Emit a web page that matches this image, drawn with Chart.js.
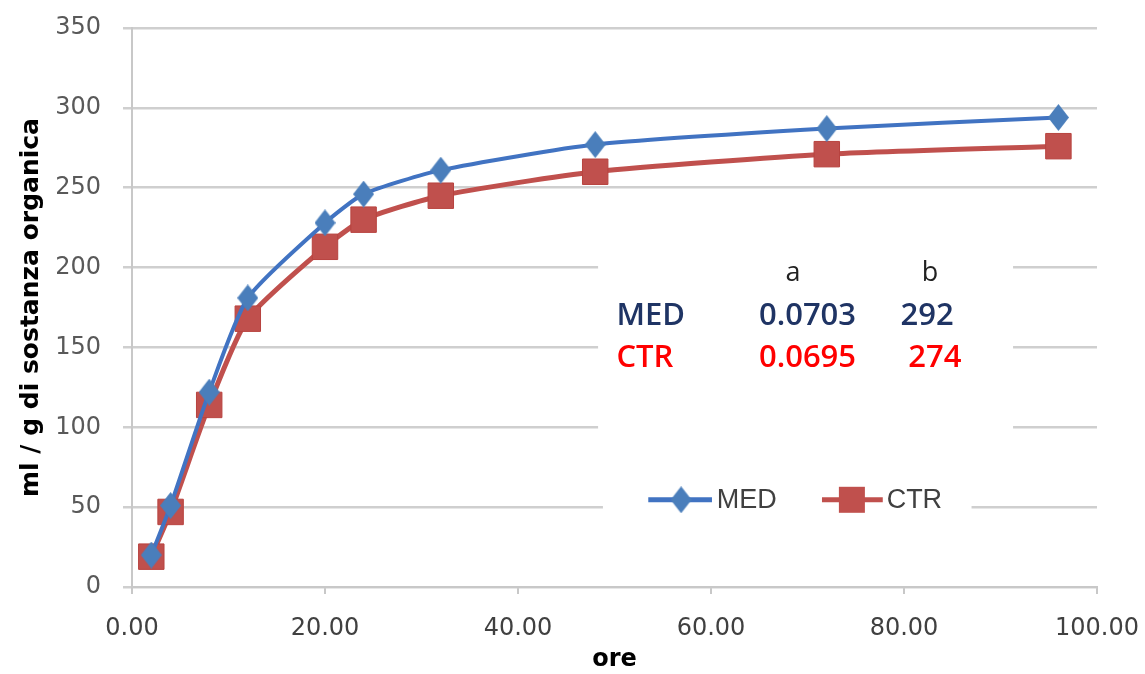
<!DOCTYPE html>
<html>
<head>
<meta charset="utf-8">
<script src="https://cdn.jsdelivr.net/npm/chart.js@4/dist/chart.umd.min.js"></script>
<style>
  html, body { margin: 0; padding: 0; background: #fff; }
  #wrap { width: 1145px; height: 674px; }
</style>
</head>
<body>
<div id="wrap"><canvas id="chart" width="1145" height="674"></canvas></div>
<script>
// values
const hours = [2, 4, 8, 12, 20, 24, 32, 48, 72, 96];
const medValues = [20, 51, 122, 181, 228, 246, 261, 277, 287, 294];
const ctrValues = [19, 47, 114, 168, 213, 230, 245, 260, 271, 276];

const seriesNames = ['MED', 'CTR'];
const fitHeader = ['a', 'b'];
const fitA = ['0.0703', '0.0695'];
const fitB = ['292', '274'];

const blueLine = '#4173c2';
const blueMark = '#4a7ebb';
const redLine = '#c0504d';
const redMark = '#c0504d';

function makeDiamond(w, h, color) {
  const c = document.createElement('canvas');
  c.width = w; c.height = h;
  const g = c.getContext('2d');
  g.fillStyle = color;
  g.beginPath();
  g.moveTo(w / 2, 0);
  g.lineTo(w, h / 2);
  g.lineTo(w / 2, h);
  g.lineTo(0, h / 2);
  g.closePath();
  g.fill();
  return c;
}
const diamond = makeDiamond(21, 27, blueMark);

// table of fit params + legend, drawn inside the plot area on white boxes
const overlay = {
  id: 'overlay',
  beforeDatasetsDraw(chart) {
    const { ctx, chartArea: a } = chart;
    const fx = f => a.left + f * (a.right - a.left);
    const fy = f => a.top + f * (a.bottom - a.top);
    ctx.save();
    ctx.fillStyle = '#fff';
    ctx.fillRect(fx(0.483), fy(0.388), fx(0.913) - fx(0.483), fy(0.746) - fy(0.388));
    ctx.fillRect(fx(0.488), fy(0.792), fx(0.870) - fx(0.488), fy(0.877) - fy(0.792));

    ctx.textBaseline = 'middle';
    ctx.font = '27px "Open Sans"';
    ctx.fillStyle = '#222';
    ctx.textAlign = 'center';
    ctx.fillText(fitHeader[0], fx(0.685), fy(0.438));
    ctx.fillText(fitHeader[1], fx(0.827), fy(0.438));

    const rowY = [0.515, 0.590];
    const rowColor = ['#1f3464', '#ff0000'];
    const bX = [0.824, 0.832];
    ctx.font = '600 31px "Open Sans"';
    seriesNames.forEach((n, i) => {
      ctx.fillStyle = rowColor[i];
      ctx.textAlign = 'left';
      ctx.fillText(n, fx(0.502), fy(rowY[i]));
      ctx.textAlign = 'center';
      ctx.fillText(fitA[i], fx(0.700), fy(rowY[i]));
      ctx.fillText(fitB[i], fx(bX[i]), fy(rowY[i]));
    });

    // legend
    const ly = fy(0.844);
    ctx.lineCap = 'butt';
    ctx.lineWidth = 5;
    ctx.strokeStyle = blueLine;
    ctx.beginPath(); ctx.moveTo(fx(0.535), ly); ctx.lineTo(fx(0.601), ly); ctx.stroke();
    ctx.drawImage(diamond, fx(0.569) - 10.5, ly - 13.5);
    ctx.strokeStyle = redLine;
    ctx.beginPath(); ctx.moveTo(fx(0.715), ly); ctx.lineTo(fx(0.778), ly); ctx.stroke();
    ctx.fillStyle = redMark;
    ctx.fillRect(fx(0.746) - 13, ly - 13, 26, 26);
    ctx.font = '27px "Liberation Sans"';
    ctx.fillStyle = '#404040';
    ctx.textAlign = 'left';
    ctx.fillText(seriesNames[0], fx(0.606), ly + 1);
    ctx.fillText(seriesNames[1], fx(0.782), ly + 1);
    ctx.restore();
  }
};

const ctx = document.getElementById('chart').getContext('2d');
new Chart(ctx, {
  type: 'line',
  data: {
    datasets: [
      {
        label: seriesNames[0],
        data: hours.map((h, i) => ({ x: h, y: medValues[i] })),
        borderColor: blueLine,
        borderWidth: 4,
        backgroundColor: blueMark,
        pointStyle: diamond,
        pointRadius: 11,
        tension: 0.2,
        fill: false
      },
      {
        label: seriesNames[1],
        data: hours.map((h, i) => ({ x: h, y: ctrValues[i] })),
        borderColor: redLine,
        borderWidth: 5,
        backgroundColor: redMark,
        pointBorderColor: '#b8433f',
        pointBorderWidth: 1,
        pointStyle: 'rect',
        pointRadius: 18,
        tension: 0.2,
        fill: false
      }
    ]
  },
  options: {
    responsive: false,
    animation: false,
    layout: { padding: { top: 28, right: 48, left: 0, bottom: 0 } },
    plugins: {
      legend: { display: false },
      tooltip: { enabled: false }
    },
    scales: {
      x: {
        type: 'linear',
        min: 0,
        max: 100,
        afterFit: s => { s.height = 87; s.paddingLeft = 0; s.paddingRight = 0; },
        ticks: {
          stepSize: 20,
          color: '#404040',
          font: { family: 'DejaVu Sans', size: 24 },
          padding: 20,
          maxRotation: 0,
          callback: v => v.toFixed(2)
        },
        grid: { drawOnChartArea: false, drawTicks: true, tickLength: 7, color: '#c8c8c8', lineWidth: 2 },
        border: { color: '#c8c8c8', width: 2 },
        title: {
          display: true,
          text: 'ore',
          color: '#000',
          font: { family: 'DejaVu Sans', size: 24, weight: 'bold' },
          padding: { top: 0, bottom: 0 }
        }
      },
      y: {
        min: 0,
        max: 350,
        afterFit: s => { s.width = 132; s.paddingTop = 0; s.paddingBottom = 0; },
        ticks: {
          stepSize: 50,
          color: '#595959',
          font: { family: 'DejaVu Sans', size: 24 },
          padding: 22
        },
        grid: { color: '#cfcfcf', lineWidth: 2.5, tickLength: 9 },
        border: { color: '#c8c8c8', width: 2 },
        title: {
          display: true,
          text: 'ml / g di sostanza organica',
          color: '#000',
          font: { family: 'DejaVu Sans', size: 25, weight: 'bold' },
          padding: { top: 16, bottom: 0 }
        }
      }
    }
  },
  plugins: [overlay]
});
</script>
</body>
</html>
